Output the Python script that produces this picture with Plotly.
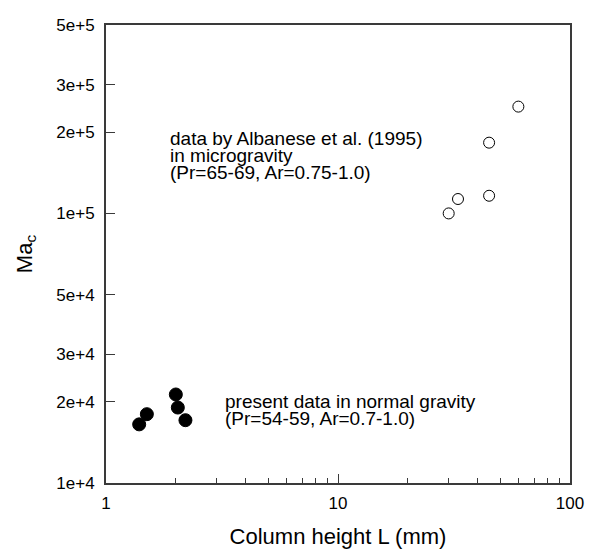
import plotly.graph_objects as go

# Present data in normal gravity
present_L = [1.39, 1.50, 2.00, 2.04, 2.20]
present_Ma = [1.65e4, 1.80e4, 2.13e4, 1.905e4, 1.71e4]

# Albanese et al. (1995), microgravity
alb_L = [59.9, 44.8, 44.8, 32.9, 30.0]
alb_Ma = [2.49e5, 1.83e5, 1.163e5, 1.131e5, 1.00e5]

y_tickvals = [1e4, 2e4, 3e4, 5e4, 1e5, 2e5, 3e5, 5e5]
y_ticktext = ["1e+4", "2e+4", "3e+4", "5e+4", "1e+5", "2e+5", "3e+5", "5e+5"]
x_tickvals = [1, 10, 100]
x_ticktext = ["1", "10", "100"]
x_minor = [m * d for d in (1, 10) for m in range(2, 10)]

FONT = "Arial, Liberation Sans, sans-serif"
AX = "#3a3a3a"

fig = go.Figure()
fig.add_trace(go.Scatter(
    x=present_L, y=present_Ma, mode="markers",
    marker=dict(symbol="circle", size=13, color="black", line=dict(color="black", width=1)),
    showlegend=False))
fig.add_trace(go.Scatter(
    x=alb_L, y=alb_Ma, mode="markers",
    marker=dict(symbol="circle", size=11, color="white", line=dict(color="black", width=1)),
    showlegend=False))

PLOT_L, PLOT_W, PLOT_T, PLOT_H = 106, 464, 16, 467
ann1 = ["data by Albanese et al. (1995)", "in microgravity", "(Pr=65-69, Ar=0.75-1.0)"]
ann2 = ["present data in normal gravity", "(Pr=54-59, Ar=0.7-1.0)"]
for i, t in enumerate(ann1):
    fig.add_annotation(x=(168 - PLOT_L) / PLOT_W, y=1 - (132 + 17 * i - PLOT_T) / PLOT_H,
                       xref="paper", yref="paper",
                       text=t, showarrow=False, xanchor="left", yanchor="middle",
                       font=dict(family=FONT, size=19, color="black"))
for i, t in enumerate(ann2):
    fig.add_annotation(x=(223 - PLOT_L) / PLOT_W, y=1 - (400 + 17 * i - PLOT_T) / PLOT_H,
                       xref="paper", yref="paper",
                       text=t, showarrow=False, xanchor="left", yanchor="middle",
                       font=dict(family=FONT, size=19, color="black"))

fig.update_layout(
    width=585, height=546,
    margin=dict(l=98, r=23, t=8, b=71),
    paper_bgcolor="white", plot_bgcolor="white",
    font=dict(family=FONT, size=17, color="black"),
    xaxis=dict(
        type="log", range=[0, 2],
        tickvals=x_tickvals, ticktext=x_ticktext,
        ticks="inside", ticklen=9, tickwidth=1, tickcolor=AX,
        minor=dict(tickvals=x_minor, ticks="inside", ticklen=5, tickwidth=1, tickcolor=AX),
        showline=True, linecolor=AX, linewidth=2, mirror=True,
        showgrid=False, zeroline=False,
        ticklabelstandoff=4,
        tickfont=dict(size=17),
        title=dict(text="Column height L (mm)", font=dict(size=22), standoff=16),
    ),
    yaxis=dict(
        type="log", range=[4, 5.69897],
        tickvals=y_tickvals, ticktext=y_ticktext,
        ticks="inside", ticklen=9, tickwidth=1, tickcolor=AX,
        showline=True, linecolor=AX, linewidth=2, mirror=True,
        showgrid=False, zeroline=False,
        ticklabelstandoff=6,
        tickfont=dict(size=17),
        title=dict(text="Ma<sub>c</sub>", font=dict(size=22), standoff=18),
    ),
)

fig.write_html("out.html")
